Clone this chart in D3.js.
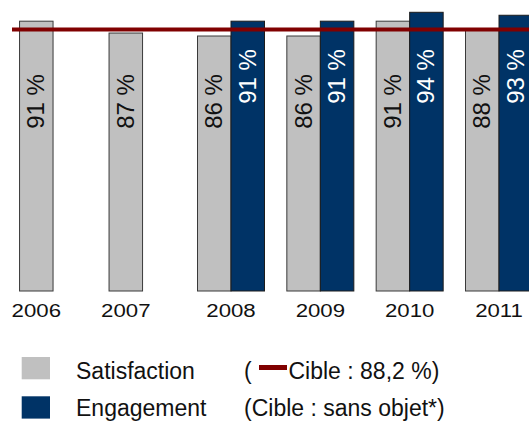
<!DOCTYPE html>
<html>
<head>
<meta charset="utf-8">
<script src="https://cdn.jsdelivr.net/npm/d3@7"></script>
<style>
  html, body { margin: 0; padding: 0; background: #fff; }
  svg { display: block; font-family: "Liberation Sans", Arial, sans-serif; }
</style>
</head>
<body>
<svg id="chart" width="529" height="422"></svg>
<script>
// Annual survey results (percent)
const years = [2006, 2007, 2008, 2009, 2010, 2011];
const satisfaction = [91, 87, 86, 86, 91, 88];
const engagement = [null, null, 91, 91, 94, 93];
const satisfactionTarget = 88.2;

const legendLabels = ["Satisfaction", "Engagement"];
const targetNotes = ["Cible : 88,2 %)", "(Cible : sans objet*)"];

const colors = { satisfaction: "#c0c0c0", engagement: "#003366", target: "#800000" };

const W = 529, H = 422;
const plotBottom = 291;
const barW = 33.5;

const svg = d3.select("#chart");

// Year positions: the two satisfaction-only years sit a little tighter
const x = d3.scaleLinear()
  .domain([2006, 2007, 2008, 2011])
  .range([36.3, 125.8, 231, 499]);

const y = d3.scaleLinear().domain([0, 100]).range([plotBottom, plotBottom - 296.5]);

const rows = years.map((yr, i) => ({ year: yr, sat: satisfaction[i], eng: engagement[i] }));

const fmt = v => `${v} %`;

// Satisfaction bars: centred when alone, left half of the pair otherwise
const satX = d => d.eng == null ? x(d.year) - barW / 2 : x(d.year) - barW;
const engX = d => x(d.year);

svg.append("g").selectAll("rect")
  .data(rows)
  .join("rect")
  .attr("x", satX)
  .attr("y", d => y(d.sat))
  .attr("width", barW)
  .attr("height", d => plotBottom - y(d.sat))
  .attr("fill", colors.satisfaction)
  .attr("stroke", "#3a3a3a")
  .attr("stroke-width", 1);

const engRows = rows.filter(d => d.eng != null);
svg.append("g").selectAll("rect")
  .data(engRows)
  .join("rect")
  .attr("x", engX)
  .attr("y", d => y(d.eng))
  .attr("width", barW)
  .attr("height", d => plotBottom - y(d.eng))
  .attr("fill", colors.engagement)
  .attr("stroke", "#1c1c1c")
  .attr("stroke-width", 1);

// Rotated value labels inside the bars
const labelSize = 24;
svg.append("g").selectAll("text")
  .data(rows)
  .join("text")
  .attr("transform", d => `translate(${satX(d) + barW / 2},101.5) rotate(-90)`)
  .attr("y", 8)
  .attr("text-anchor", "middle")
  .attr("font-size", labelSize)
  .attr("fill", "#111")
  .text(d => fmt(d.sat));

svg.append("g").selectAll("text")
  .data(engRows)
  .join("text")
  .attr("transform", d => `translate(${engX(d) + barW / 2},76.5) rotate(-90)`)
  .attr("y", 8)
  .attr("text-anchor", "middle")
  .attr("font-size", labelSize)
  .attr("fill", "#fff")
  .text(d => fmt(d.eng));

// Satisfaction target line
svg.append("line")
  .attr("x1", 12).attr("x2", W)
  .attr("y1", y(satisfactionTarget)).attr("y2", y(satisfactionTarget))
  .attr("stroke", colors.target)
  .attr("stroke-width", 4);

// Year labels
svg.append("g").selectAll("text")
  .data(years)
  .join("text")
  .attr("transform", d => `translate(${x(d)},316.7) scale(1.17,1)`)
  .attr("text-anchor", "middle")
  .attr("font-size", 19)
  .attr("fill", "#111")
  .text(d => d);

// Legend
const legendRows = [
  { label: legendLabels[0], color: colors.satisfaction, top: 357, base: 378.7 },
  { label: legendLabels[1], color: colors.engagement, top: 396.3, base: 416 }
];
const lg = svg.append("g").attr("font-size", 23).attr("fill", "#111");
lg.selectAll("rect")
  .data(legendRows)
  .join("rect")
  .attr("x", 21.7).attr("y", d => d.top)
  .attr("width", 28.3).attr("height", 22.3)
  .attr("fill", d => d.color);
lg.selectAll("text.name")
  .data(legendRows)
  .join("text")
  .attr("class", "name")
  .attr("x", 76).attr("y", d => d.base)
  .text(d => d.label);

lg.append("text").attr("x", 244).attr("y", 378.7).text("(");
lg.append("line")
  .attr("x1", 259).attr("x2", 287)
  .attr("y1", 367.5).attr("y2", 367.5)
  .attr("stroke", colors.target)
  .attr("stroke-width", 5);
lg.append("text").attr("x", 288.5).attr("y", 378.7).text(targetNotes[0]);
lg.append("text").attr("x", 244).attr("y", 416).text(targetNotes[1]);
</script>
</body>
</html>
